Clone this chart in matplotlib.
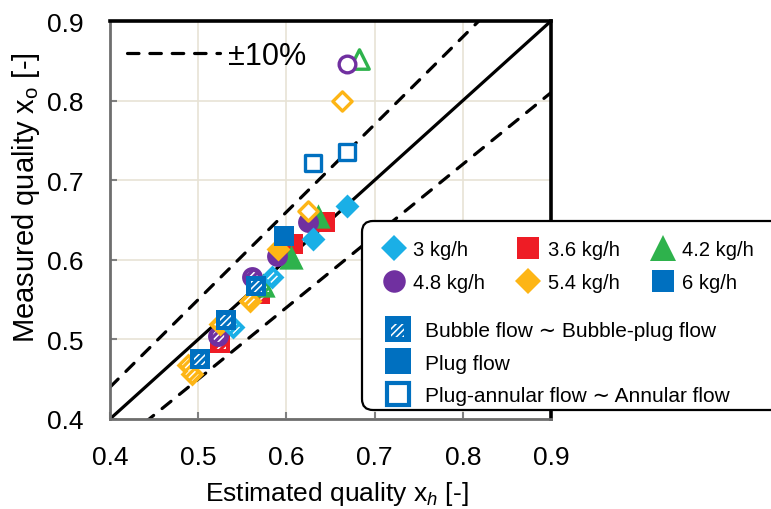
import numpy as np
import matplotlib
matplotlib.use("Agg")
import matplotlib.pyplot as plt
from matplotlib.lines import Line2D
from matplotlib.patches import FancyBboxPatch
from matplotlib.transforms import IdentityTransform

plt.rcParams['font.family'] = ['Liberation Sans', 'DejaVu Sans']
plt.rcParams['mathtext.fontset'] = 'custom'
plt.rcParams['mathtext.rm'] = 'Liberation Sans'
plt.rcParams['mathtext.it'] = 'Liberation Sans:italic'
plt.rcParams['hatch.color'] = 'white'
plt.rcParams['hatch.linewidth'] = 1.1

# regime codes: B = bubble ~ bubble-plug, P = plug, A = plug-annular ~ annular
flow_labels = ["3 kg/h", "3.6 kg/h", "4.2 kg/h", "4.8 kg/h", "5.4 kg/h", "6 kg/h"]
regime_labels = ["Bubble flow \u223c Bubble-plug flow", "Plug flow",
                 "Plug-annular flow \u223c Annular flow"]

xh_30 = [0.669, 0.630, 0.584, 0.540]
xo_30 = [0.668, 0.626, 0.578, 0.515]
reg_30 = ['P', 'P', 'B', 'B']

xh_36 = [0.644, 0.608, 0.570, 0.525]
xo_36 = [0.647, 0.620, 0.557, 0.495]
reg_36 = ['P', 'P', 'B', 'B']

xh_42 = [0.682, 0.636, 0.605, 0.573]
xo_42 = [0.852, 0.655, 0.603, 0.568]
reg_42 = ['A', 'P', 'P', 'B']

xh_48 = [0.669, 0.624, 0.589, 0.561, 0.523]
xo_48 = [0.846, 0.647, 0.605, 0.578, 0.504]
reg_48 = ['A', 'P', 'P', 'B', 'B']

xh_54 = [0.663, 0.625, 0.591, 0.559, 0.525, 0.489, 0.493]
xo_54 = [0.800, 0.661, 0.614, 0.548, 0.519, 0.468, 0.456]
reg_54 = ['A', 'A', 'P', 'B', 'B', 'B', 'B']

xh_60 = [0.669, 0.630, 0.597, 0.566, 0.531, 0.502]
xo_60 = [0.735, 0.721, 0.630, 0.567, 0.524, 0.475]
reg_60 = ['A', 'A', 'P', 'B', 'B', 'B']

colors = ["#1AAFE6", "#EE1C25", "#2EB24C", "#7030A0", "#FDB515", "#0070C0"]
markers = ['D', 's', '^', 'o', 'D', 's']
msizes = [12.2, 14.4, 17.5, 15.0, 12.2, 14.4]

series = [(xh_30, xo_30, reg_30), (xh_36, xo_36, reg_36), (xh_42, xo_42, reg_42),
          (xh_48, xo_48, reg_48), (xh_54, xo_54, reg_54), (xh_60, xo_60, reg_60)]
draw_order = [1, 2, 3, 4, 0, 5]


def draw_series(ax, xh, xo, reg, marker, ms, color, z):
    xh = np.asarray(xh)
    xo = np.asarray(xo)
    reg = np.asarray(reg)
    filled = reg != 'A'
    ax.scatter(xh[filled], xo[filled], s=ms ** 2, marker=marker, color=color,
               linewidths=0, zorder=z)
    b = reg == 'B'
    ax.scatter(xh[b], xo[b], s=(ms * 0.55) ** 2, marker=marker, facecolors='none',
               edgecolors='white', linewidths=0, hatch='/////', zorder=z)
    a = reg == 'A'
    ax.scatter(xh[a], xo[a], s=(ms * 0.8) ** 2, marker=marker, facecolors='white',
               edgecolors=color, linewidths=2.4, zorder=z)


W, H = 771, 510
fig = plt.figure(figsize=(W / 100, H / 100), dpi=100)
ax = fig.add_axes([110 / W, 90 / H, 441 / W, 398 / H])

lim = (0.4, 0.9)
ax.set_xlim(lim)
ax.set_ylim(lim)
ticks = [0.4, 0.5, 0.6, 0.7, 0.8, 0.9]
ax.set_xticks(ticks)
ax.set_yticks(ticks)
ax.set_xticklabels([f"{t:.1f}" for t in ticks])
ax.set_yticklabels([f"{t:.1f}" for t in ticks])
ax.grid(True, color="#E8E3D5", lw=1.2)
ax.set_axisbelow(True)

dash = (0, (3.6, 3.4))
xx = np.array(lim)
ax.plot(xx, xx, color='k', lw=2.3, zorder=2)
ax.plot(xx, 1.1 * xx, color='k', lw=2.3, ls=dash, dash_capstyle='round', zorder=2)
ax.plot(xx, 0.9 * xx, color='k', lw=2.3, ls=dash, dash_capstyle='round', zorder=2)

for k, i in enumerate(draw_order):
    xh, xo, reg = series[i]
    draw_series(ax, xh, xo, reg, markers[i], msizes[i], colors[i], 3 + k * 0.1)

for side in ['left', 'bottom']:
    ax.spines[side].set_color('#6E6E6E')
    ax.spines[side].set_linewidth(2.0)
for side in ['top', 'right']:
    ax.spines[side].set_color('black')
    ax.spines[side].set_linewidth(2.6)

ax.tick_params(direction='in', length=5, width=1.5, color='#808080', labelsize=19)
ax.tick_params(axis='x', pad=19)
ax.tick_params(axis='y', pad=19)

ax.set_xlabel("Estimated quality x$_{h}$ [-]", fontsize=19)
ax.set_ylabel("Measured quality x$_\\mathrm{o}$ [-]", fontsize=21)
ax.xaxis.set_label_coords((337 - 110) / 441, (420 - 480) / 398)
ax.yaxis.set_label_coords((42 - 110) / 441, (420 - 198) / 398)

# +-10% key
pm_line = Line2D([], [], color='k', lw=2.3, ls=dash, dash_capstyle='round')
fig.legend([pm_line], ["\u00b110%"], loc='center left',
           bbox_to_anchor=(127 / W, 1 - 57 / H), frameon=False, fontsize=22,
           borderpad=0, borderaxespad=0, handlelength=3.05, handletextpad=0.27)

# legend box
box = FancyBboxPatch((362, H - 411), 430, 189,
                     boxstyle="round,pad=0,rounding_size=11",
                     transform=IdentityTransform(), facecolor='white',
                     edgecolor='black', lw=1.6, zorder=4)
fig.add_artist(box)

flow_handles = [Line2D([], [], ls='none', marker=markers[i], color=colors[i],
                       markeredgewidth=0, markersize=msizes[i] * 1.08)
                for i in range(6)]
order = [0, 3, 1, 4, 2, 5]
leg1 = fig.legend([flow_handles[i] for i in order], [flow_labels[i] for i in order],
                  ncol=3, loc='upper left', bbox_to_anchor=(381 / W, 1 - 241 / H),
                  frameon=False, fontsize=14.5, borderpad=0, borderaxespad=0,
                  handlelength=1.3, handletextpad=0.3, columnspacing=1.5,
                  labelspacing=0.72)
leg1.set_zorder(5)

blue = colors[5]
rs = 19.0
bub_base = Line2D([], [], ls='none', marker='s', color=blue, markeredgewidth=0,
                  markersize=rs)
bub_hatch = ax.scatter([], [], s=(rs * 0.52) ** 2, marker='s', facecolors='none',
                       edgecolors='white', linewidths=0, hatch='/////')
plug_h = Line2D([], [], ls='none', marker='s', color=blue, markeredgewidth=0,
                markersize=rs)
ann_h = Line2D([], [], ls='none', marker='s', markerfacecolor='white',
               markeredgecolor=blue, markeredgewidth=3.0, markersize=rs - 3.0)
leg2 = fig.legend([(bub_base, bub_hatch), plug_h, ann_h], regime_labels,
                  loc='upper left', bbox_to_anchor=(384 / W, 1 - 322 / H),
                  frameon=False, fontsize=15, borderpad=0, borderaxespad=0,
                  handlelength=1.3, handletextpad=0.65, labelspacing=0.66,
                  scatterpoints=1)
leg2.set_zorder(5)

fig.savefig("out.png", dpi=100)
